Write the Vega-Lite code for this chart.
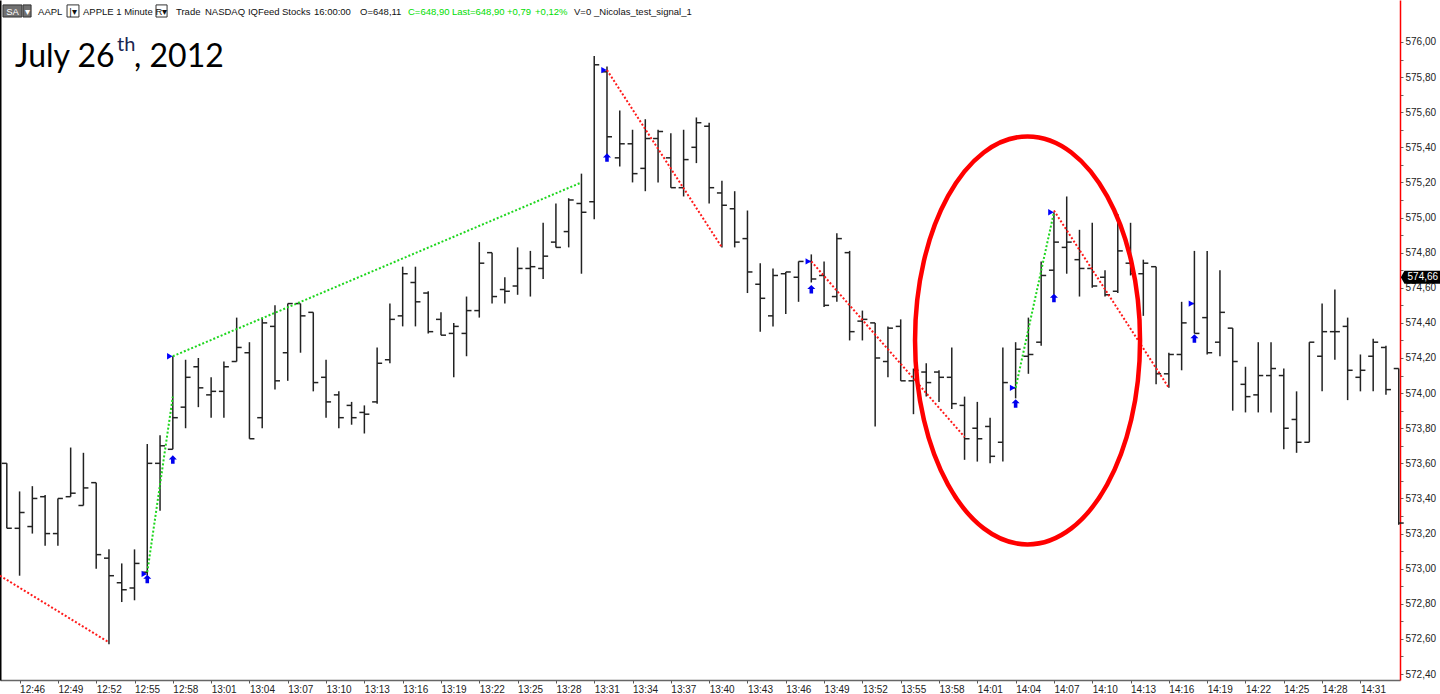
{
  "$schema": "https://vega.github.io/schema/vega-lite/v6.json",
  "width": 1400,
  "height": 680,
  "autosize": "none",
  "padding": {"left": 0, "top": 0, "right": 40, "bottom": 14},
  "background": "white",
  "config": {"view": {"stroke": null}},
  "datasets": {
    "bars": [
      {"t": "2012-07-26T12:45", "o": 573.60, "h": 573.60, "l": 573.23, "c": 573.23},
      {"t": "2012-07-26T12:46", "o": 573.23, "h": 573.44, "l": 572.96, "c": 573.32},
      {"t": "2012-07-26T12:47", "o": 573.24, "h": 573.47, "l": 573.20, "c": 573.40},
      {"t": "2012-07-26T12:48", "o": 573.41, "h": 573.42, "l": 573.13, "c": 573.20},
      {"t": "2012-07-26T12:49", "o": 573.20, "h": 573.40, "l": 573.13, "c": 573.40},
      {"t": "2012-07-26T12:50", "o": 573.41, "h": 573.69, "l": 573.41, "c": 573.43},
      {"t": "2012-07-26T12:51", "o": 573.36, "h": 573.66, "l": 573.36, "c": 573.46},
      {"t": "2012-07-26T12:52", "o": 573.49, "h": 573.49, "l": 573.00, "c": 573.08},
      {"t": "2012-07-26T12:53", "o": 573.06, "h": 573.11, "l": 572.57, "c": 572.96},
      {"t": "2012-07-26T12:54", "o": 572.92, "h": 573.03, "l": 572.81, "c": 572.88},
      {"t": "2012-07-26T12:55", "o": 572.89, "h": 573.11, "l": 572.82, "c": 573.03},
      {"t": "2012-07-26T12:56", "o": 572.98, "h": 573.71, "l": 572.96, "c": 573.60},
      {"t": "2012-07-26T12:57", "o": 573.60, "h": 573.76, "l": 573.33, "c": 573.70},
      {"t": "2012-07-26T12:58", "o": 573.68, "h": 574.21, "l": 573.68, "c": 573.86},
      {"t": "2012-07-26T12:59", "o": 573.92, "h": 574.19, "l": 573.80, "c": 574.09},
      {"t": "2012-07-26T13:00", "o": 574.15, "h": 574.20, "l": 573.92, "c": 574.03},
      {"t": "2012-07-26T13:01", "o": 573.99, "h": 574.09, "l": 573.86, "c": 574.01},
      {"t": "2012-07-26T13:02", "o": 574.01, "h": 574.18, "l": 573.86, "c": 574.15},
      {"t": "2012-07-26T13:03", "o": 574.18, "h": 574.43, "l": 574.18, "c": 574.26},
      {"t": "2012-07-26T13:04", "o": 574.23, "h": 574.29, "l": 573.74, "c": 573.74},
      {"t": "2012-07-26T13:05", "o": 573.86, "h": 574.43, "l": 573.80, "c": 574.40},
      {"t": "2012-07-26T13:06", "o": 574.38, "h": 574.50, "l": 574.02, "c": 574.07},
      {"t": "2012-07-26T13:07", "o": 574.23, "h": 574.51, "l": 574.07, "c": 574.51},
      {"t": "2012-07-26T13:08", "o": 574.51, "h": 574.51, "l": 574.23, "c": 574.44},
      {"t": "2012-07-26T13:09", "o": 574.46, "h": 574.46, "l": 574.01, "c": 574.06},
      {"t": "2012-07-26T13:10", "o": 574.09, "h": 574.19, "l": 573.86, "c": 573.95},
      {"t": "2012-07-26T13:11", "o": 573.99, "h": 574.01, "l": 573.80, "c": 573.86},
      {"t": "2012-07-26T13:12", "o": 573.93, "h": 573.95, "l": 573.82, "c": 573.86},
      {"t": "2012-07-26T13:13", "o": 573.89, "h": 573.93, "l": 573.77, "c": 573.88},
      {"t": "2012-07-26T13:14", "o": 573.95, "h": 574.26, "l": 573.94, "c": 574.17},
      {"t": "2012-07-26T13:15", "o": 574.19, "h": 574.51, "l": 574.17, "c": 574.42},
      {"t": "2012-07-26T13:16", "o": 574.44, "h": 574.72, "l": 574.38, "c": 574.68},
      {"t": "2012-07-26T13:17", "o": 574.63, "h": 574.72, "l": 574.38, "c": 574.52},
      {"t": "2012-07-26T13:18", "o": 574.57, "h": 574.58, "l": 574.34, "c": 574.35},
      {"t": "2012-07-26T13:19", "o": 574.42, "h": 574.46, "l": 574.33, "c": 574.33},
      {"t": "2012-07-26T13:20", "o": 574.34, "h": 574.40, "l": 574.09, "c": 574.38},
      {"t": "2012-07-26T13:21", "o": 574.34, "h": 574.55, "l": 574.21, "c": 574.47},
      {"t": "2012-07-26T13:22", "o": 574.47, "h": 574.86, "l": 574.43, "c": 574.74},
      {"t": "2012-07-26T13:23", "o": 574.80, "h": 574.80, "l": 574.51, "c": 574.55},
      {"t": "2012-07-26T13:24", "o": 574.59, "h": 574.66, "l": 574.51, "c": 574.58},
      {"t": "2012-07-26T13:25", "o": 574.61, "h": 574.83, "l": 574.56, "c": 574.71},
      {"t": "2012-07-26T13:26", "o": 574.71, "h": 574.81, "l": 574.55, "c": 574.72},
      {"t": "2012-07-26T13:27", "o": 574.71, "h": 574.97, "l": 574.65, "c": 574.78},
      {"t": "2012-07-26T13:28", "o": 574.86, "h": 575.08, "l": 574.83, "c": 574.83},
      {"t": "2012-07-26T13:29", "o": 574.92, "h": 575.11, "l": 574.83, "c": 575.10},
      {"t": "2012-07-26T13:30", "o": 575.08, "h": 575.25, "l": 574.68, "c": 575.03},
      {"t": "2012-07-26T13:31", "o": 575.09, "h": 575.92, "l": 574.99, "c": 575.87},
      {"t": "2012-07-26T13:32", "o": 575.83, "h": 575.86, "l": 575.33, "c": 575.46},
      {"t": "2012-07-26T13:33", "o": 575.34, "h": 575.61, "l": 575.29, "c": 575.42},
      {"t": "2012-07-26T13:34", "o": 575.42, "h": 575.50, "l": 575.20, "c": 575.25},
      {"t": "2012-07-26T13:35", "o": 575.28, "h": 575.56, "l": 575.15, "c": 575.45},
      {"t": "2012-07-26T13:36", "o": 575.45, "h": 575.50, "l": 575.20, "c": 575.49},
      {"t": "2012-07-26T13:37", "o": 575.34, "h": 575.48, "l": 575.17, "c": 575.17},
      {"t": "2012-07-26T13:38", "o": 575.17, "h": 575.50, "l": 575.12, "c": 575.33},
      {"t": "2012-07-26T13:39", "o": 575.40, "h": 575.57, "l": 575.31, "c": 575.54},
      {"t": "2012-07-26T13:40", "o": 575.52, "h": 575.54, "l": 575.08, "c": 575.17},
      {"t": "2012-07-26T13:41", "o": 575.14, "h": 575.21, "l": 574.83, "c": 575.07},
      {"t": "2012-07-26T13:42", "o": 575.05, "h": 575.15, "l": 574.83, "c": 574.86},
      {"t": "2012-07-26T13:43", "o": 574.88, "h": 575.04, "l": 574.57, "c": 574.69},
      {"t": "2012-07-26T13:44", "o": 574.62, "h": 574.74, "l": 574.35, "c": 574.54},
      {"t": "2012-07-26T13:45", "o": 574.44, "h": 574.71, "l": 574.38, "c": 574.67},
      {"t": "2012-07-26T13:46", "o": 574.68, "h": 574.69, "l": 574.45, "c": 574.69},
      {"t": "2012-07-26T13:47", "o": 574.66, "h": 574.75, "l": 574.52, "c": 574.75},
      {"t": "2012-07-26T13:48", "o": 574.75, "h": 574.79, "l": 574.63, "c": 574.65},
      {"t": "2012-07-26T13:49", "o": 574.67, "h": 574.75, "l": 574.49, "c": 574.50},
      {"t": "2012-07-26T13:50", "o": 574.55, "h": 574.91, "l": 574.52, "c": 574.88},
      {"t": "2012-07-26T13:51", "o": 574.80, "h": 574.81, "l": 574.30, "c": 574.35},
      {"t": "2012-07-26T13:52", "o": 574.41, "h": 574.47, "l": 574.30, "c": 574.42},
      {"t": "2012-07-26T13:53", "o": 574.40, "h": 574.40, "l": 573.81, "c": 574.20},
      {"t": "2012-07-26T13:54", "o": 574.18, "h": 574.38, "l": 574.09, "c": 574.37},
      {"t": "2012-07-26T13:55", "o": 574.38, "h": 574.42, "l": 574.07, "c": 574.07},
      {"t": "2012-07-26T13:56", "o": 574.07, "h": 574.14, "l": 573.88, "c": 574.13},
      {"t": "2012-07-26T13:57", "o": 574.12, "h": 574.17, "l": 573.98, "c": 574.06},
      {"t": "2012-07-26T13:58", "o": 574.12, "h": 574.13, "l": 573.95, "c": 574.09},
      {"t": "2012-07-26T13:59", "o": 574.09, "h": 574.26, "l": 573.91, "c": 573.94},
      {"t": "2012-07-26T14:00", "o": 573.93, "h": 573.98, "l": 573.62, "c": 573.74},
      {"t": "2012-07-26T14:01", "o": 573.80, "h": 573.95, "l": 573.61, "c": 573.74},
      {"t": "2012-07-26T14:02", "o": 573.81, "h": 573.86, "l": 573.60, "c": 573.64},
      {"t": "2012-07-26T14:03", "o": 573.72, "h": 574.26, "l": 573.61, "c": 574.06},
      {"t": "2012-07-26T14:04", "o": 574.03, "h": 574.29, "l": 573.97, "c": 574.25},
      {"t": "2012-07-26T14:05", "o": 574.21, "h": 574.43, "l": 574.11, "c": 574.22},
      {"t": "2012-07-26T14:06", "o": 574.29, "h": 574.75, "l": 574.27, "c": 574.67},
      {"t": "2012-07-26T14:07", "o": 574.70, "h": 575.03, "l": 574.56, "c": 574.86},
      {"t": "2012-07-26T14:08", "o": 574.83, "h": 575.12, "l": 574.68, "c": 574.86},
      {"t": "2012-07-26T14:09", "o": 574.76, "h": 574.93, "l": 574.55, "c": 574.71},
      {"t": "2012-07-26T14:10", "o": 574.71, "h": 574.97, "l": 574.60, "c": 574.61},
      {"t": "2012-07-26T14:11", "o": 574.66, "h": 574.70, "l": 574.55, "c": 574.56},
      {"t": "2012-07-26T14:12", "o": 574.58, "h": 575.02, "l": 574.57, "c": 574.81},
      {"t": "2012-07-26T14:13", "o": 574.74, "h": 574.97, "l": 574.67, "c": 574.68},
      {"t": "2012-07-26T14:14", "o": 574.68, "h": 574.76, "l": 574.44, "c": 574.74},
      {"t": "2012-07-26T14:15", "o": 574.72, "h": 574.72, "l": 574.05, "c": 574.11},
      {"t": "2012-07-26T14:16", "o": 574.11, "h": 574.23, "l": 574.03, "c": 574.22},
      {"t": "2012-07-26T14:17", "o": 574.22, "h": 574.52, "l": 574.13, "c": 574.40},
      {"t": "2012-07-26T14:18", "o": 574.51, "h": 574.81, "l": 574.34, "c": 574.34},
      {"t": "2012-07-26T14:19", "o": 574.43, "h": 574.81, "l": 574.22, "c": 574.23},
      {"t": "2012-07-26T14:20", "o": 574.29, "h": 574.70, "l": 574.21, "c": 574.46},
      {"t": "2012-07-26T14:21", "o": 574.37, "h": 574.37, "l": 573.90, "c": 574.18},
      {"t": "2012-07-26T14:22", "o": 574.05, "h": 574.15, "l": 573.89, "c": 573.98},
      {"t": "2012-07-26T14:23", "o": 573.99, "h": 574.29, "l": 573.89, "c": 574.10},
      {"t": "2012-07-26T14:24", "o": 574.10, "h": 574.29, "l": 573.89, "c": 574.14},
      {"t": "2012-07-26T14:25", "o": 574.10, "h": 574.14, "l": 573.68, "c": 573.80},
      {"t": "2012-07-26T14:26", "o": 573.85, "h": 574.01, "l": 573.66, "c": 573.72},
      {"t": "2012-07-26T14:27", "o": 573.72, "h": 574.29, "l": 573.72, "c": 574.29},
      {"t": "2012-07-26T14:28", "o": 574.21, "h": 574.51, "l": 574.01, "c": 574.35},
      {"t": "2012-07-26T14:29", "o": 574.35, "h": 574.59, "l": 574.19, "c": 574.35},
      {"t": "2012-07-26T14:30", "o": 574.38, "h": 574.43, "l": 573.96, "c": 574.13},
      {"t": "2012-07-26T14:31", "o": 574.09, "h": 574.22, "l": 574.01, "c": 574.13},
      {"t": "2012-07-26T14:32", "o": 574.21, "h": 574.31, "l": 574.01, "c": 574.29},
      {"t": "2012-07-26T14:33", "o": 574.26, "h": 574.27, "l": 573.99, "c": 574.02},
      {"t": "2012-07-26T14:34", "o": 574.14, "h": 574.14, "l": 573.25, "c": 573.26}
    ],
    "zigzag": [
      {"seg": 1, "kind": "down", "t": "2012-07-26T12:44:28", "p": 572.96},
      {"seg": 1, "kind": "down", "t": "2012-07-26T12:53:00", "p": 572.58},
      {"seg": 2, "kind": "up", "t": "2012-07-26T12:56:00", "p": 572.98},
      {"seg": 2, "kind": "up", "t": "2012-07-26T12:58:00", "p": 573.98},
      {"seg": 3, "kind": "up", "t": "2012-07-26T12:58:00", "p": 574.21},
      {"seg": 3, "kind": "up", "t": "2012-07-26T13:30:00", "p": 575.20},
      {"seg": 4, "kind": "down", "t": "2012-07-26T13:32:00", "p": 575.84},
      {"seg": 4, "kind": "down", "t": "2012-07-26T13:41:00", "p": 574.83},
      {"seg": 5, "kind": "down", "t": "2012-07-26T13:48:00", "p": 574.75},
      {"seg": 5, "kind": "down", "t": "2012-07-26T14:00:00", "p": 573.75},
      {"seg": 6, "kind": "up", "t": "2012-07-26T14:04:00", "p": 574.03},
      {"seg": 6, "kind": "up", "t": "2012-07-26T14:07:00", "p": 575.03},
      {"seg": 7, "kind": "down", "t": "2012-07-26T14:07:00", "p": 575.04},
      {"seg": 7, "kind": "down", "t": "2012-07-26T14:16:00", "p": 574.03}
    ],
    "entries": [
      {"t": "2012-07-26T12:56", "p": 572.97},
      {"t": "2012-07-26T12:58", "p": 574.21},
      {"t": "2012-07-26T13:32", "p": 575.84},
      {"t": "2012-07-26T13:48", "p": 574.75},
      {"t": "2012-07-26T14:04", "p": 574.03},
      {"t": "2012-07-26T14:07", "p": 575.03},
      {"t": "2012-07-26T14:18", "p": 574.51}
    ],
    "arrows": [
      {"t": "2012-07-26T12:56", "p": 572.94},
      {"t": "2012-07-26T12:58", "p": 573.62},
      {"t": "2012-07-26T13:32", "p": 575.34},
      {"t": "2012-07-26T13:48", "p": 574.59},
      {"t": "2012-07-26T14:04", "p": 573.94},
      {"t": "2012-07-26T14:07", "p": 574.54},
      {"t": "2012-07-26T14:18", "p": 574.31}
    ],
    "circled": [{"t": "2012-07-26T14:04:56", "p": 574.30}],
    "last": [{"t": "2012-07-26T14:35:44", "p": 574.66, "label": "574,66"}],
    "darkbox": [
      {"t": "2012-07-26T12:44:42", "t2": "2012-07-26T12:46:11", "p": 576.211, "p2": 576.142},
      {"t": "2012-07-26T12:46:16", "t2": "2012-07-26T12:46:54", "p": 576.211, "p2": 576.142}
    ],
    "lightbox": [
      {"t": "2012-07-26T12:49:43", "t2": "2012-07-26T12:50:39", "p": 576.211, "p2": 576.142},
      {"t": "2012-07-26T12:56:41", "t2": "2012-07-26T12:57:33", "p": 576.211, "p2": 576.142}
    ],
    "hdrwhite": [
      {"t": "2012-07-26T12:45:27", "p": 576.154, "label": "SA"},
      {"t": "2012-07-26T12:46:35", "p": 576.156, "label": "▾"}
    ],
    "hdrboxed": [
      {"t": "2012-07-26T12:50:11", "p": 576.156, "label": "|▾"},
      {"t": "2012-07-26T12:57:07", "p": 576.156, "label": "R▾"}
    ],
    "hdr": [
      {"t": "2012-07-26T12:47:27", "p": 576.154, "label": "AAPL"},
      {"t": "2012-07-26T12:50:58", "p": 576.154, "label": "APPLE 1 Minute"},
      {"t": "2012-07-26T12:58:15", "p": 576.154, "label": "Trade"},
      {"t": "2012-07-26T13:00:31", "p": 576.154, "label": "NASDAQ"},
      {"t": "2012-07-26T13:03:53", "p": 576.154, "label": "IQFeed"},
      {"t": "2012-07-26T13:06:33", "p": 576.154, "label": "Stocks"},
      {"t": "2012-07-26T13:09:03", "p": 576.154, "label": "16:00:00"},
      {"t": "2012-07-26T13:12:40", "p": 576.154, "label": "O=648,11"},
      {"t": "2012-07-26T13:29:25", "p": 576.154, "label": "V=0"},
      {"t": "2012-07-26T13:30:59", "p": 576.154, "label": "_Nicolas_test_signal_1"}
    ],
    "hdrgreen": [
      {"t": "2012-07-26T13:16:25", "p": 576.154, "label": "C=648,90"},
      {"t": "2012-07-26T13:19:52", "p": 576.154, "label": "Last=648,90"},
      {"t": "2012-07-26T13:24:10", "p": 576.154, "label": "+0,79"},
      {"t": "2012-07-26T13:26:22", "p": 576.154, "label": "+0,12%"}
    ],
    "date": [
      {"t": "2012-07-26T12:45:39", "p": 575.857, "label": "July 26"},
      {"t": "2012-07-26T12:54:58", "p": 575.857, "label": ", 2012"}
    ],
    "datesup": [
      {"t": "2012-07-26T12:53:38", "p": 575.949, "label": "th"}
    ]
  },
  "encoding": {
    "x": {"field": "t", "type": "temporal", "axis": null},
    "y": {"field": "p", "type": "quantitative", "axis": null}
  },
  "layer": [
    {
      "data": {"name": "bars"},
      "mark": {"type": "rule", "color": "#222222", "strokeWidth": 1.5},
      "encoding": {
        "x": {
          "field": "t",
          "type": "temporal",
          "scale": {
            "domain": [
              {"year": 2012, "month": 7, "date": 26, "hours": 12, "minutes": 44, "seconds": 28},
              {"year": 2012, "month": 7, "date": 26, "hours": 14, "minutes": 34, "seconds": 6}
            ],
            "nice": false
          },
          "axis": {
            "orient": "bottom",
            "title": null,
            "grid": false,
            "format": "%H:%M",
            "values": [
              {"year": 2012, "month": 7, "date": 26, "hours": 12, "minutes": 46},
              {"year": 2012, "month": 7, "date": 26, "hours": 12, "minutes": 49},
              {"year": 2012, "month": 7, "date": 26, "hours": 12, "minutes": 52},
              {"year": 2012, "month": 7, "date": 26, "hours": 12, "minutes": 55},
              {"year": 2012, "month": 7, "date": 26, "hours": 12, "minutes": 58},
              {"year": 2012, "month": 7, "date": 26, "hours": 13, "minutes": 1},
              {"year": 2012, "month": 7, "date": 26, "hours": 13, "minutes": 4},
              {"year": 2012, "month": 7, "date": 26, "hours": 13, "minutes": 7},
              {"year": 2012, "month": 7, "date": 26, "hours": 13, "minutes": 10},
              {"year": 2012, "month": 7, "date": 26, "hours": 13, "minutes": 13},
              {"year": 2012, "month": 7, "date": 26, "hours": 13, "minutes": 16},
              {"year": 2012, "month": 7, "date": 26, "hours": 13, "minutes": 19},
              {"year": 2012, "month": 7, "date": 26, "hours": 13, "minutes": 22},
              {"year": 2012, "month": 7, "date": 26, "hours": 13, "minutes": 25},
              {"year": 2012, "month": 7, "date": 26, "hours": 13, "minutes": 28},
              {"year": 2012, "month": 7, "date": 26, "hours": 13, "minutes": 31},
              {"year": 2012, "month": 7, "date": 26, "hours": 13, "minutes": 34},
              {"year": 2012, "month": 7, "date": 26, "hours": 13, "minutes": 37},
              {"year": 2012, "month": 7, "date": 26, "hours": 13, "minutes": 40},
              {"year": 2012, "month": 7, "date": 26, "hours": 13, "minutes": 43},
              {"year": 2012, "month": 7, "date": 26, "hours": 13, "minutes": 46},
              {"year": 2012, "month": 7, "date": 26, "hours": 13, "minutes": 49},
              {"year": 2012, "month": 7, "date": 26, "hours": 13, "minutes": 52},
              {"year": 2012, "month": 7, "date": 26, "hours": 13, "minutes": 55},
              {"year": 2012, "month": 7, "date": 26, "hours": 13, "minutes": 58},
              {"year": 2012, "month": 7, "date": 26, "hours": 14, "minutes": 1},
              {"year": 2012, "month": 7, "date": 26, "hours": 14, "minutes": 4},
              {"year": 2012, "month": 7, "date": 26, "hours": 14, "minutes": 7},
              {"year": 2012, "month": 7, "date": 26, "hours": 14, "minutes": 10},
              {"year": 2012, "month": 7, "date": 26, "hours": 14, "minutes": 13},
              {"year": 2012, "month": 7, "date": 26, "hours": 14, "minutes": 16},
              {"year": 2012, "month": 7, "date": 26, "hours": 14, "minutes": 19},
              {"year": 2012, "month": 7, "date": 26, "hours": 14, "minutes": 22},
              {"year": 2012, "month": 7, "date": 26, "hours": 14, "minutes": 25},
              {"year": 2012, "month": 7, "date": 26, "hours": 14, "minutes": 28},
              {"year": 2012, "month": 7, "date": 26, "hours": 14, "minutes": 31}
            ],
            "labelAlign": "left",
            "labelFont": "Liberation Sans",
            "labelFontSize": 10,
            "labelColor": "#222222",
            "labelPadding": 1,
            "labelOverlap": false,
            "labelFlush": false,
            "tickSize": 3,
            "tickColor": "#555555",
            "domainColor": "#666666",
            "domainWidth": 1.5
          }
        },
        "y": {
          "field": "l",
          "type": "quantitative",
          "scale": {"domain": [572.366, 576.239], "nice": false, "zero": false},
          "axis": {
            "orient": "right",
            "title": null,
            "grid": false,
            "values": [572.4, 572.5, 572.6, 572.7, 572.8, 572.9, 573, 573.1, 573.2, 573.3, 573.4, 573.5, 573.6, 573.7, 573.8, 573.9, 574, 574.1, 574.2, 574.3, 574.4, 574.5, 574.6, 574.7, 574.8, 574.9, 575, 575.1, 575.2, 575.3, 575.4, 575.5, 575.6, 575.7, 575.8, 575.9, 576],
            "labelExpr": "round(datum.value * 10) % 2 == 0 ? replace(format(datum.value, '.2f'), '.', ',') : ''",
            "labelFont": "Liberation Sans",
            "labelFontSize": 10,
            "labelColor": "#222222",
            "labelPadding": 2,
            "labelOverlap": false,
            "labelFlush": false,
            "tickSize": 3,
            "tickColor": "#666666",
            "domainColor": "#ff0000",
            "domainWidth": 1.5
          }
        },
        "y2": {"field": "h"}
      }
    },
    {
      "data": {"name": "bars"},
      "mark": {"type": "tick", "orient": "horizontal", "size": 5, "thickness": 1.5, "xOffset": -2.5, "color": "#222222", "opacity": 1},
      "encoding": {"y": {"field": "o", "type": "quantitative", "axis": null}}
    },
    {
      "data": {"name": "bars"},
      "mark": {"type": "tick", "orient": "horizontal", "size": 5, "thickness": 1.5, "xOffset": 2.5, "color": "#222222", "opacity": 1},
      "encoding": {"y": {"field": "c", "type": "quantitative", "axis": null}}
    },
    {
      "data": {"name": "zigzag"},
      "mark": {"type": "line", "strokeWidth": 2, "strokeDash": [2, 2]},
      "encoding": {
        "color": {"field": "kind", "type": "nominal", "scale": {"domain": ["up", "down"], "range": ["#1ed61e", "#ff1a1a"]}, "legend": null},
        "detail": {"field": "seg"}
      }
    },
    {
      "data": {"name": "entries"},
      "mark": {"type": "point", "shape": "triangle-right", "size": 40, "filled": true, "color": "#0000ff", "opacity": 1, "xOffset": -3}
    },
    {
      "data": {"name": "arrows"},
      "mark": {"type": "point", "shape": "M 0 -1 L 0.9 -0.1 L 0.4 -0.1 L 0.4 0.9 L -0.4 0.9 L -0.4 -0.1 L -0.9 -0.1 Z", "size": 80, "filled": true, "color": "#0000ee", "opacity": 1}
    },
    {
      "data": {"name": "circled"},
      "mark": {"type": "point", "shape": "M 0 -1 C 0.3046 -1 0.5515 -0.5523 0.5515 0 C 0.5515 0.5523 0.3046 1 0 1 C -0.3046 1 -0.5515 0.5523 -0.5515 0 C -0.5515 -0.5523 -0.3046 -1 0 -1 Z", "size": 166464, "filled": false, "stroke": "#ff0000", "strokeWidth": 4.5, "opacity": 1},
      "encoding": {
        "y": {
          "field": "p",
          "type": "quantitative",
          "axis": {"orient": "left", "title": null, "grid": false, "labels": false, "ticks": false, "domainColor": "#000000", "domainWidth": 2}
        }
      }
    },
    {
      "data": {"name": "last"},
      "mark": {"type": "point", "shape": "M -1 0 L -0.82 -0.32 L 1 -0.32 L 1 0.32 L -0.82 0.32 Z", "size": 1600, "filled": true, "color": "#000000", "opacity": 1}
    },
    {
      "data": {"name": "last"},
      "mark": {"type": "text", "align": "center", "baseline": "middle", "font": "Liberation Sans", "fontSize": 10, "color": "#ffffff", "dx": 2},
      "encoding": {"text": {"field": "label"}}
    },
    {
      "data": {"name": "darkbox"},
      "mark": {"type": "rect", "fill": "#707070", "stroke": "#333333", "strokeWidth": 1},
      "encoding": {"x2": {"field": "t2"}, "y2": {"field": "p2"}}
    },
    {
      "data": {"name": "lightbox"},
      "mark": {"type": "rect", "fill": "#ffffff", "stroke": "#333333", "strokeWidth": 1},
      "encoding": {"x2": {"field": "t2"}, "y2": {"field": "p2"}}
    },
    {
      "data": {"name": "hdrwhite"},
      "mark": {"type": "text", "align": "center", "baseline": "alphabetic", "font": "Liberation Sans", "fontSize": 9.5, "color": "#ffffff"},
      "encoding": {"text": {"field": "label"}}
    },
    {
      "data": {"name": "hdrboxed"},
      "mark": {"type": "text", "align": "center", "baseline": "alphabetic", "font": "Liberation Sans", "fontSize": 9.5, "color": "#111111"},
      "encoding": {"text": {"field": "label"}}
    },
    {
      "data": {"name": "hdr"},
      "mark": {"type": "text", "align": "left", "baseline": "alphabetic", "font": "Liberation Sans", "fontSize": 9.5, "color": "#111111"},
      "encoding": {"text": {"field": "label"}}
    },
    {
      "data": {"name": "hdrgreen"},
      "mark": {"type": "text", "align": "left", "baseline": "alphabetic", "font": "Liberation Sans", "fontSize": 9.5, "color": "#00dd00"},
      "encoding": {"text": {"field": "label"}}
    },
    {
      "data": {"name": "date"},
      "mark": {"type": "text", "align": "left", "baseline": "alphabetic", "font": "Lato", "fontSize": 32, "color": "#000000"},
      "encoding": {"text": {"field": "label"}}
    },
    {
      "data": {"name": "datesup"},
      "mark": {"type": "text", "align": "left", "baseline": "alphabetic", "font": "Lato", "fontSize": 20, "color": "#1a2450"},
      "encoding": {"text": {"field": "label"}}
    }
  ],
  "resolve": {"axis": {"x": "independent", "y": "independent"}}
}
